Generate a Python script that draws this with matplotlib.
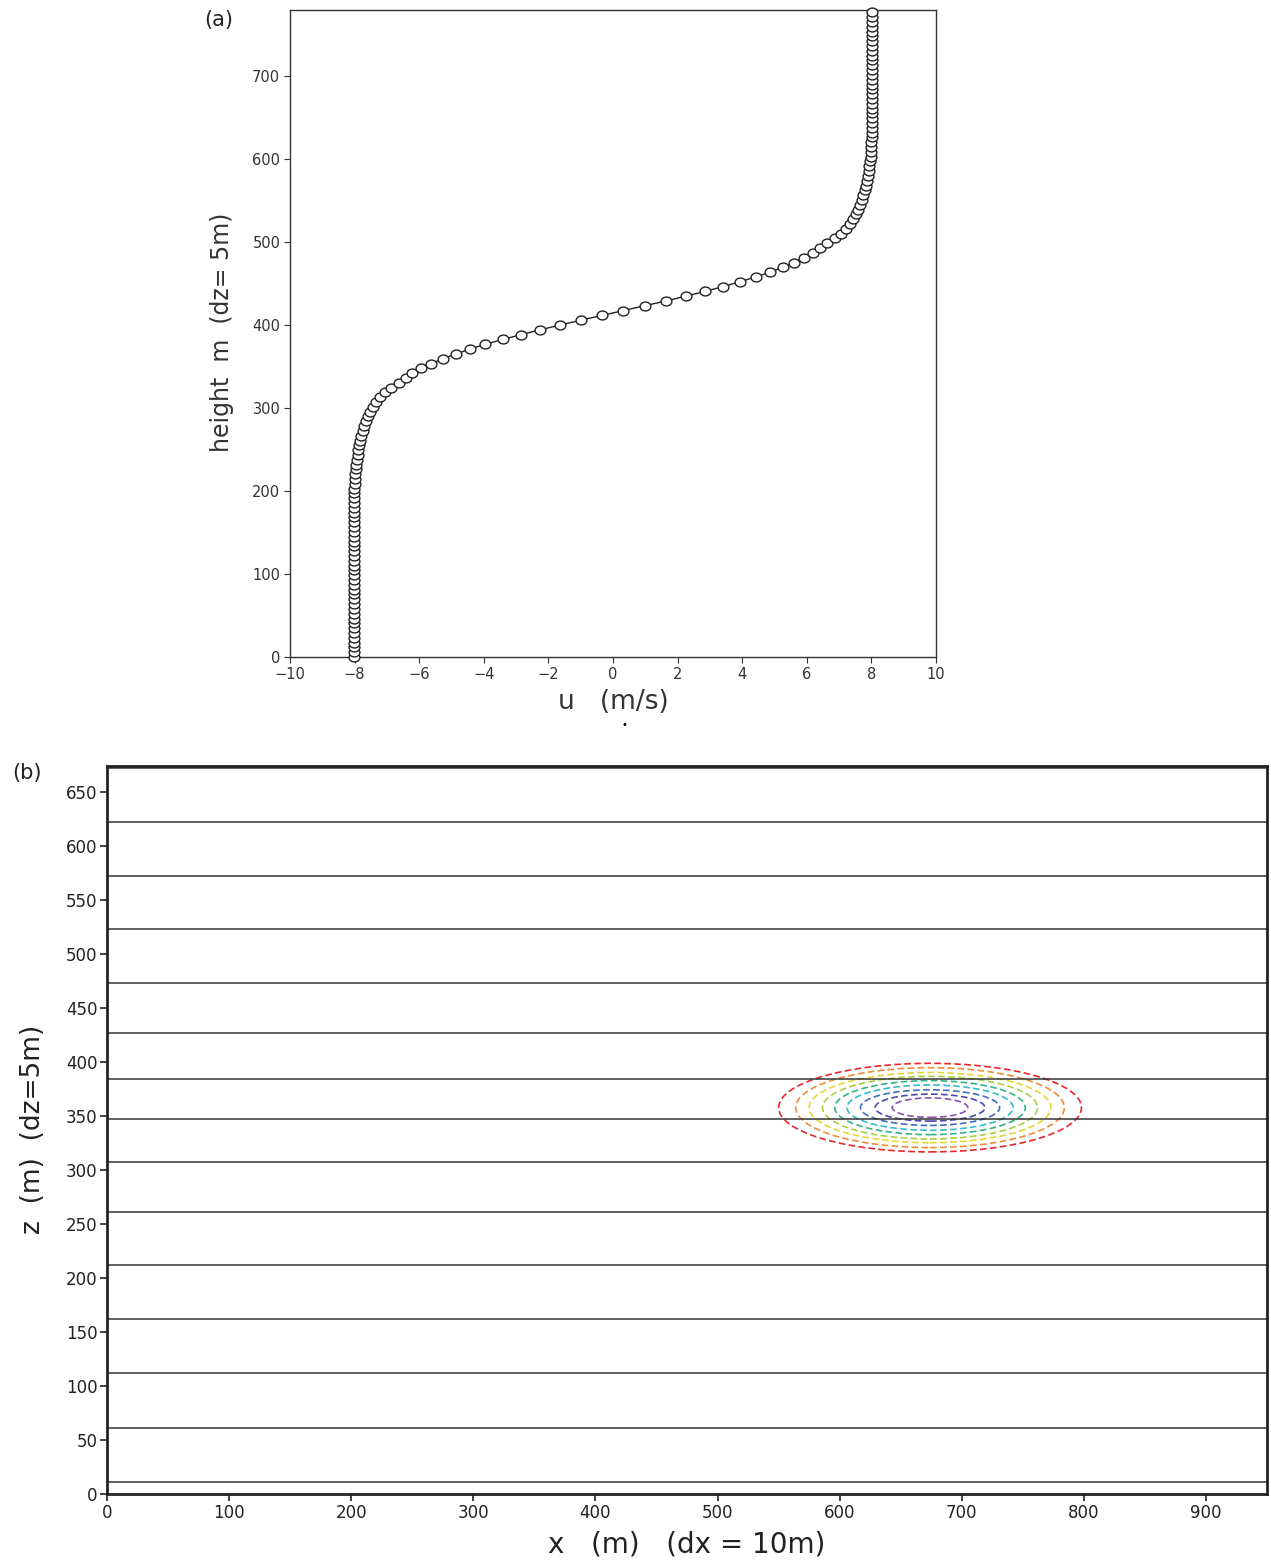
import numpy as np
import matplotlib
matplotlib.use("Agg")
import matplotlib.pyplot as plt
from matplotlib.patches import Ellipse
from matplotlib.path import Path
from matplotlib.transforms import Affine2D

# (a) u profile, one value per level (bottom to top)
u_wind = [-8.03, -8.03, -8.03, -8.03, -8.03, -8.03, -8.03, -8.03, -8.03, -8.03,
          -8.03, -8.03, -8.03, -8.03, -8.03, -8.03, -8.03, -8.03, -8.03, -8.03,
          -8.03, -8.03, -8.03, -8.03, -8.03, -8.03, -8.03, -8.03, -8.03, -8.03,
          -8.03, -8.03, -8.03,
          -8.02, -8.02, -8.01, -8.00, -7.99, -7.98, -7.97, -7.95, -7.93, -7.91,
          -7.89, -7.86, -7.83, -7.79, -7.75, -7.70, -7.65, -7.59, -7.52, -7.44,
          -7.34, -7.21, -7.06, -6.87, -6.63, -6.41, -6.22, -5.94, -5.63, -5.26,
          -4.86, -4.43, -3.96, -3.41, -2.86, -2.26, -1.64, -1.00, -0.34,
          0.32, 0.98, 1.63, 2.25, 2.85, 3.41, 3.93, 4.42, 4.86, 5.26,
          5.61, 5.92, 6.20, 6.41, 6.63, 6.87, 7.06, 7.21, 7.34,
          7.44, 7.52, 7.59, 7.65, 7.70, 7.75, 7.79, 7.83, 7.86, 7.89,
          7.91, 7.93, 7.95, 7.97, 7.98, 7.99, 8.00, 8.01, 8.02, 8.02,
          8.03, 8.03, 8.03, 8.03, 8.03, 8.03, 8.03, 8.03, 8.03, 8.03,
          8.03, 8.03, 8.03, 8.03, 8.03, 8.03, 8.03, 8.03, 8.03, 8.03,
          8.03, 8.03, 8.03, 8.03]
level_step = 5.8   # spacing of the markers as drawn
heights = np.arange(len(u_wind)) * level_step

u_ticks = [-10, -8, -6, -4, -2, 0, 2, 4, 6, 8, 10]
height_ticks = [0, 100, 200, 300, 400, 500, 600, 700]

# (b) horizontal isolines (m) and the bubble contours
layer_lines = [11, 61, 112, 162, 212, 261, 307, 347, 384, 427, 473, 523, 572, 622, 672]
bubble_x, bubble_z = 674, 357.7
bubble_half_width = [124, 110, 99, 88, 78, 68, 57, 45, 31]
bubble_half_height = [41, 37, 32.5, 29, 25, 21, 16.5, 12.5, 9]
bubble_colors = ["#e8262c", "#f08c3a", "#e4d636", "#a8d044", "#34b482",
                 "#32bccb", "#3f6cbf", "#4a4aa8", "#8e52aa"]

x_ticks = [0, 100, 200, 300, 400, 500, 600, 700, 800, 900]
z_ticks = [0, 50, 100, 150, 200, 250, 300, 350, 400, 450, 500, 550, 600, 650]

# slightly flattened open circle, like the grads marker
flat_circle = Path.unit_circle().transformed(Affine2D().scale(1.0, 0.82))

fig = plt.figure(figsize=(12.71, 15.65), dpi=100)

#### panel (a)
ax1 = fig.add_axes([0.2282, 0.5802, 0.5083, 0.4134])
ax1.plot(u_wind, heights, color="#222222", lw=1.0, marker=flat_circle, ms=7.8,
         mfc="white", mec="#222222", mew=1.0, clip_on=False, zorder=3)
ax1.set_xlim(-10, 10)
ax1.set_ylim(0, 780)
ax1.set_xticks(u_ticks)
ax1.set_xticklabels([str(t).replace("-", "\u2212") for t in u_ticks])
ax1.set_yticks(height_ticks)
ax1.tick_params(direction="out", length=4, width=0.8, labelsize=10.5,
                labelcolor="#333333", color="#333333", pad=3)
for s in ax1.spines.values():
    s.set_linewidth(1.0)
    s.set_color("#333333")

fig.text(0.4823, 0.5514, "u   (m/s)", fontsize=19, ha="center", va="center", color="#333333")
fig.text(0.1747, 0.7879, "height  m  (dz= 5m)", fontsize=17, rotation=90,
         ha="center", va="center", color="#333333")
fig.text(0.491, 0.5367, "\u2022", fontsize=7, ha="center", va="center")
fig.text(0.1723, 0.9872, "(a)", fontsize=15, ha="center", va="center", color="#222222")

#### panel (b)
ax2 = fig.add_axes([0.0842, 0.04537, 0.9127, 0.4652])
for z in layer_lines:
    ax2.axhline(z, color="#333333", lw=1.1)
for w, h, c in zip(bubble_half_width, bubble_half_height, bubble_colors):
    ax2.add_patch(Ellipse((bubble_x, bubble_z), 2 * w, 2 * h, fill=False,
                          ec=c, lw=1.2, ls=(0, (4, 2))))
ax2.set_xlim(0, 950)
ax2.set_ylim(0, 674)
ax2.set_xticks(x_ticks)
ax2.set_yticks(z_ticks)
ax2.tick_params(direction="out", length=5, width=1.2, labelsize=12,
                labelcolor="#222222", color="#222222", pad=2)
for s in ax2.spines.values():
    s.set_linewidth(2.0)
    s.set_color("#222222")

fig.text(0.5405, 0.0128, "x   (m)   (dx = 10m)", fontsize=20, ha="center", va="center", color="#222222")
fig.text(0.026, 0.2786, "z  (m)  (dz=5m)", fontsize=19, rotation=90,
         ha="center", va="center", color="#222222")
fig.text(0.0212, 0.506, "(b)", fontsize=15, ha="center", va="center", color="#222222")

fig.savefig("out.png", dpi=100)
